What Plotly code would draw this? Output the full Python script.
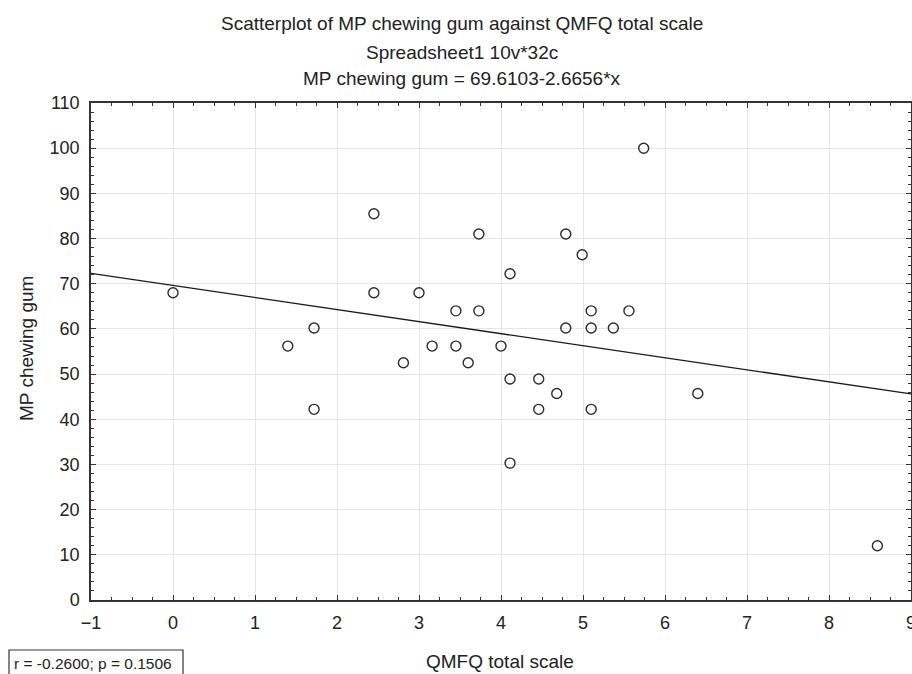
import plotly.graph_objects as go

# Data
qmfq = [0.0, 1.40, 1.72, 1.72, 2.45, 2.45, 2.81, 3.0, 3.16, 3.45, 3.45, 3.60,
        3.73, 3.73, 4.0, 4.11, 4.11, 4.11, 4.46, 4.46, 4.68, 4.79, 4.79, 4.99,
        5.10, 5.10, 5.10, 5.37, 5.56, 5.74, 6.40, 8.59]
mp_gum = [68, 56.2, 60.2, 42.2, 85.5, 68, 52.5, 68, 56.2, 64, 56.2, 52.5,
          81, 64, 56.2, 72.2, 48.9, 30.3, 48.9, 42.2, 45.7, 81, 60.2, 76.4,
          64, 60.2, 42.2, 60.2, 64, 100, 45.7, 12]
intercept = 69.6103
slope = -2.6656
x_range = [-1, 9]
y_range = [0, 110]

FONT = "Liberation Sans, Arial, sans-serif"
DARK = "#2b2b2b"
TXT = "#222222"

W, H = 912, 674
L, R, T, B = 91, 1, 103, 74
PW, PH = W - L - R, H - T - B


def px_x(p):
    return (p - L) / PW


def px_y(p):
    return (H - B - p) / PH


fig = go.Figure()
fig.add_trace(go.Scatter(
    x=x_range, y=[intercept + slope * v for v in x_range],
    mode="lines", line=dict(color="#1a1a1a", width=1.3),
    hoverinfo="skip", showlegend=False))
fig.add_trace(go.Scatter(
    x=qmfq, y=mp_gum, mode="markers",
    marker=dict(symbol="circle-open", size=10, color=DARK, line=dict(width=1.4, color=DARK)),
    showlegend=False, cliponaxis=False))

axis_common = dict(
    showline=True, linecolor="#333333", linewidth=1.5, mirror="allticks",
    ticks="inside", ticklen=5, tickwidth=1.2, tickcolor="#333333",
    showgrid=True, gridcolor="#e5e5e5", gridwidth=1.4, zeroline=False,
    tickfont=dict(family=FONT, size=18, color=TXT),
    ticklabeloverflow="allow",
)

fig.update_xaxes(range=x_range, dtick=1, tick0=-1, ticklabelstandoff=6,
                 minor=dict(dtick=0.25, ticks="inside", ticklen=3, tickcolor="#333333", showgrid=False),
                 **axis_common)
fig.update_yaxes(range=y_range, dtick=10, ticklabelstandoff=6,
                 minor=dict(dtick=2, ticks="inside", ticklen=3, tickcolor="#333333", showgrid=False),
                 **axis_common)

titles = ["Scatterplot of MP chewing gum against QMFQ total scale",
          "Spreadsheet1 10v*32c",
          "MP chewing gum = 69.6103-2.6656*x"]
ys = [24, 52, 79]
for t, yy in zip(titles, ys):
    fig.add_annotation(text=t, xref="paper", yref="paper",
                       x=px_x(462), y=px_y(yy),
                       showarrow=False, xanchor="center", yanchor="middle",
                       font=dict(family=FONT, size=19, color=TXT))

# axis titles
fig.add_annotation(text="QMFQ total scale", xref="paper", yref="paper",
                   x=px_x(500), y=px_y(661), showarrow=False,
                   xanchor="center", yanchor="middle",
                   font=dict(family=FONT, size=19, color=TXT))
fig.add_annotation(text="MP chewing gum", xref="paper", yref="paper",
                   x=px_x(26), y=px_y(349), showarrow=False, textangle=-90,
                   xanchor="center", yanchor="middle",
                   font=dict(family=FONT, size=19, color=TXT))

# statistics box
fig.add_shape(type="rect", xref="paper", yref="paper",
              x0=px_x(9), x1=px_x(183), y0=px_y(650), y1=px_y(690),
              line=dict(color="#333333", width=1.2), fillcolor="white", layer="above")
fig.add_annotation(text="r = -0.2600; p = 0.1506", xref="paper", yref="paper",
                   x=px_x(12), y=px_y(663), xanchor="left", yanchor="middle",
                   showarrow=False, font=dict(family=FONT, size=15.5, color=TXT))

fig.update_layout(
    template="none",
    width=W, height=H,
    margin=dict(l=L, r=R, t=T, b=B, autoexpand=False),
    paper_bgcolor="white", plot_bgcolor="white",
    font=dict(family=FONT, size=18, color=TXT),
)

fig.write_html("out.html", config={"displayModeBar": False},
               post_script="document.body.style.margin='0';document.body.style.overflow='hidden';")
